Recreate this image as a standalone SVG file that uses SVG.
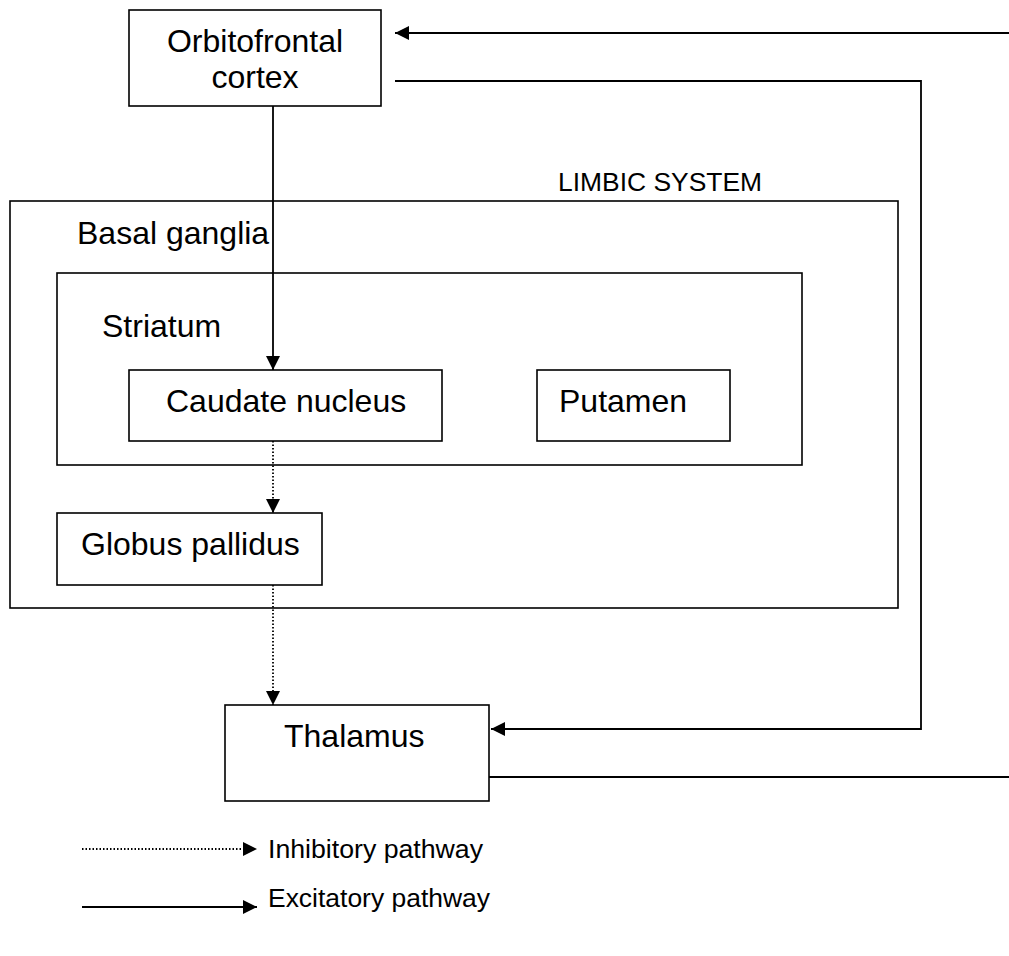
<svg xmlns="http://www.w3.org/2000/svg" width="1009" height="956" viewBox="0 0 1009 956">
<defs>
<marker id="arr" markerUnits="userSpaceOnUse" markerWidth="14" markerHeight="14" refX="14" refY="7" orient="auto">
<path d="M0,0 L14,7 L0,14 z" fill="#000"/>
</marker>
<style>
.box{fill:#fff;stroke:#000;stroke-width:1.6}
.frame{fill:none;stroke:#000;stroke-width:1.6}
.t{font-family:"Liberation Sans",Arial,sans-serif;font-size:32px;fill:#000}
.s{font-family:"Liberation Sans",Arial,sans-serif;font-size:25px;fill:#000}
.ex{fill:none;stroke:#000;stroke-width:1.8}
.in{fill:none;stroke:#000;stroke-width:1.8;stroke-dasharray:1.5,2}
</style>
</defs>
<rect width="1009" height="956" fill="#fff"/>
<g id="limbic-system">
<rect class="frame" x="10" y="201" width="888" height="407"/>
<text class="s" x="558" y="191" textLength="204" lengthAdjust="spacingAndGlyphs">LIMBIC SYSTEM</text>
</g>
<g id="basal-ganglia">
<text class="t" x="77" y="244">Basal ganglia</text>
</g>
<g id="striatum">
<rect class="frame" x="57" y="273" width="745" height="192"/>
<text class="t" x="102" y="337">Striatum</text>
</g>
<g id="orbitofrontal-cortex">
<rect class="box" x="129" y="10" width="252" height="96"/>
<text class="t" x="255" y="52" text-anchor="middle">Orbitofrontal</text>
<text class="t" x="255" y="88" text-anchor="middle">cortex</text>
</g>
<g id="caudate-nucleus">
<rect class="box" x="129" y="370" width="313" height="71"/>
<text class="t" x="166" y="412">Caudate nucleus</text>
</g>
<g id="putamen">
<rect class="box" x="537" y="370" width="193" height="71"/>
<text class="t" x="559" y="412">Putamen</text>
</g>
<g id="globus-pallidus">
<rect class="box" x="57" y="513" width="265" height="72"/>
<text class="t" x="81" y="555">Globus pallidus</text>
</g>
<g id="thalamus">
<rect class="box" x="225" y="705" width="264" height="96"/>
<text class="t" x="284" y="747">Thalamus</text>
</g>
<g id="connectors">
<polyline class="ex" points="1009,33 395,33" marker-end="url(#arr)"/>
<polyline class="ex" points="395,81 921,81 921,729 491,729" marker-end="url(#arr)"/>
<polyline class="ex" points="489,777 1009,777"/>
<polyline class="ex" points="273,106 273,370" marker-end="url(#arr)"/>
<polyline class="in" points="273,441 273,513" marker-end="url(#arr)"/>
<polyline class="in" points="273,585 273,705" marker-end="url(#arr)"/>
</g>
<g id="legend">
<polyline class="in" points="82,849 257,849" marker-end="url(#arr)"/>
<text class="s" x="268" y="858" textLength="215" lengthAdjust="spacingAndGlyphs">Inhibitory pathway</text>
<polyline class="ex" points="82,907 257,907" marker-end="url(#arr)"/>
<text class="s" x="268" y="907" textLength="222" lengthAdjust="spacingAndGlyphs">Excitatory pathway</text>
</g>
</svg>
